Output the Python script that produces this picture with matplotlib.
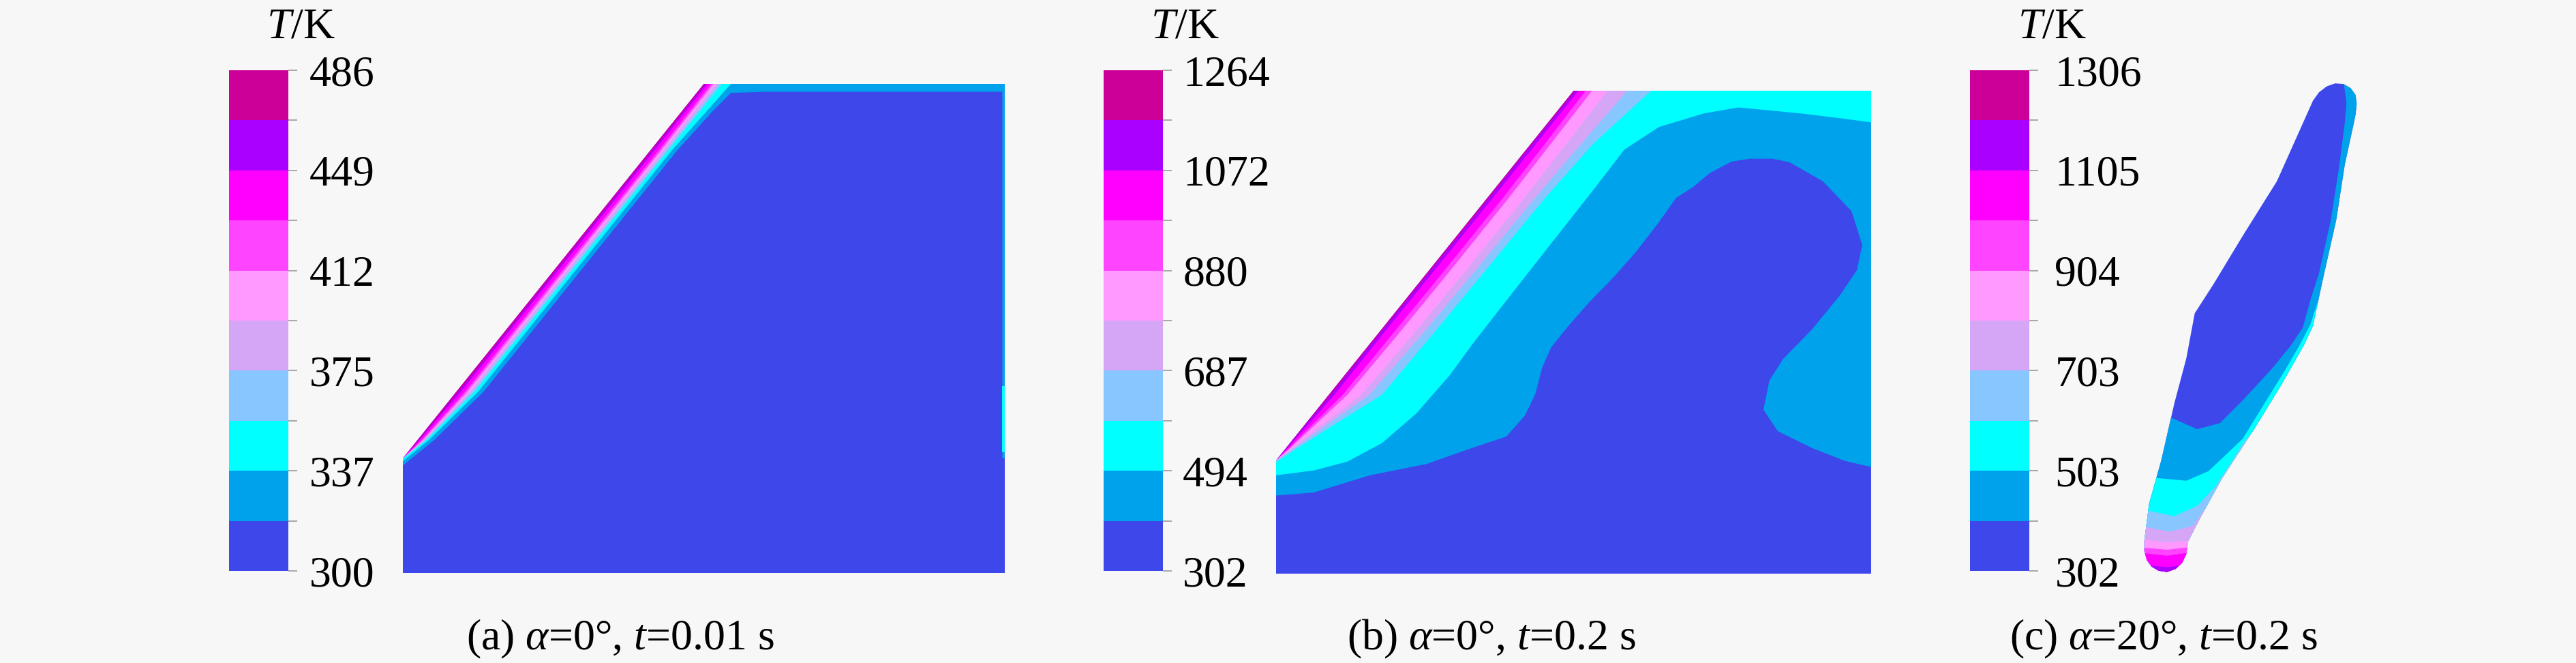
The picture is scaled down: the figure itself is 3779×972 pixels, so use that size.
import numpy as np
import matplotlib
matplotlib.use('Agg')
import matplotlib.pyplot as plt
from matplotlib.colors import ListedColormap, BoundaryNorm
from matplotlib.cm import ScalarMappable

plt.rcParams['font.family'] = ['Liberation Serif', 'DejaVu Serif']
plt.rcParams['mathtext.fontset'] = 'custom'
plt.rcParams['mathtext.rm'] = 'Liberation Serif'
plt.rcParams['mathtext.it'] = 'Liberation Serif:italic'

BG = '#f7f7f7'
FS = 46

# 10 temperature bands, coolest first
band_colors = ['#3d47ea', '#00a2ec', '#00ffff', '#88c6ff', '#d6a6f6',
               '#ff99ff', '#ff44ff', '#ff00ff', '#aa00ff', '#cc0099']

# colour bar ranges (K) and printed labels
range_a = (300, 486)
labels_a = [300, 337, 375, 412, 449, 486]
range_b = (302, 1264)
labels_b = [302, 494, 687, 880, 1072, 1264]
range_c = (302, 1306)
labels_c = [302, 503, 703, 904, 1105, 1306]

captions = [r'(a) $\alpha$=0°, $t$=0.01 s',
            r'(b) $\alpha$=0°, $t$=0.2 s',
            r'(c) $\alpha$=20°, $t$=0.2 s']

# domain of cases (a) and (b), mm-like units
domain_ab = [(0, 0), (100, 0), (100, 81), (50, 81), (0, 19)]

# isotherm lines, case (a): hot side is towards the inclined wall
a_c1 = [(0, 17.8), (5.2, 22), (13.4, 30), (29.5, 50), (45.6, 70), (51.5, 76.5),
        (54.5, 79.5), (60, 79.7), (99.6, 79.7), (99.6, 19), (100, 19)]
a_c2 = [(0, 18.5), (4.3, 22), (12.5, 30), (28.6, 50), (44.7, 70), (54.5, 81)]
a_c3 = [(0, 18.9), (3.9, 22), (11.9, 30), (28.0, 50), (44.1, 70), (53.0, 81)]
a_c4 = [(0, 19), (3.7, 22), (11.5, 30), (27.6, 50), (43.7, 70), (52.5, 81)]
a_c5 = [(0, 19), (3.5, 22), (11.1, 30), (27.2, 50), (43.3, 70), (52.0, 81)]
a_c6 = [(0, 19), (3.3, 22), (10.7, 30), (26.8, 50), (42.9, 70), (51.6, 81)]
a_c7 = [(0, 19), (3.1, 22), (10.3, 30), (26.4, 50), (42.5, 70), (51.2, 81)]
a_c8 = [(0, 19), (2.75, 22), (9.6, 30), (25.7, 50), (41.8, 70), (50.6, 81)]
a_c9 = [(0, 19), (2.6, 22), (9.25, 30), (25.35, 50), (41.45, 70), (50.3, 81)]
a_edge_spot = [(99.5, 20), (100, 20), (100, 31), (99.5, 31)]

# isotherm lines, case (b)
b_c1 = [(0, 13.1), (6.3, 13.6), (15.8, 16.5), (25.3, 18.4), (33.0, 21.1), (38.7, 23.0),
        (41.8, 26.5), (43.6, 30.2), (44.7, 34.5), (46.2, 37.9), (49.0, 41.4),
        (52.5, 45.4), (56.7, 49.7), (60.5, 54.0), (64.3, 58.9), (67.2, 63.0),
        (70.0, 64.8), (72.9, 67.2), (76.5, 69.1), (79.6, 69.6), (83.4, 69.6),
        (86.3, 69.0), (91.9, 65.8), (96.7, 60.8), (98.5, 55.1), (97.6, 50.9),
        (94.7, 46.6), (90.0, 40.9), (85.2, 36.0), (82.9, 32.4), (81.9, 27.5),
        (84.3, 23.9), (90.0, 21.1), (95.6, 18.9), (100, 17.9)]
b_c2 = [(0, 16.5), (6.3, 17.3), (12.0, 18.8), (17.8, 21.9), (23.5, 26.8), (29.2, 33.3),
        (33.0, 38.5), (37.6, 44.4), (46.0, 55.1), (53.5, 64.6), (58.5, 71.1),
        (64.3, 74.9), (71.9, 77.2), (77.7, 78.2), (88.1, 77.2), (94.7, 76.4), (100, 75.7)]
b_c3 = [(0, 18.7), (3.5, 21), (9.8, 25), (17.8, 30), (26.2, 40), (34.5, 50),
        (45.2, 63), (53.2, 72), (63, 81)]
b_c4 = [(0, 18.95), (3.0, 21), (8.6, 25), (15.7, 30), (24.4, 40), (32.8, 50),
        (43.5, 63), (51.2, 72), (59, 81)]
b_c5 = [(0, 19), (2.7, 21), (7.8, 25), (14.3, 30), (22.9, 40), (31.2, 50),
        (41.7, 63), (48.7, 72), (55.7, 81)]
b_c6 = [(0, 19), (2.3, 21), (6.6, 25), (12.0, 30), (20.4, 40), (28.6, 50),
        (39.1, 63), (46.1, 72), (53.1, 81)]
b_c7 = [(0, 19), (2.1, 21), (6.1, 25), (11.2, 30), (19.4, 40), (27.6, 50),
        (38.1, 63), (45.1, 72), (52.0, 81)]
b_c8 = [(0, 19), (1.85, 21), (5.4, 25), (9.8, 30), (17.8, 40), (25.9, 50),
        (36.4, 63), (43.6, 72), (50.8, 81)]
b_c9 = [(0, 19), (1.7, 21), (5.0, 25), (9.2, 30), (17.2, 40), (25.3, 50),
        (35.8, 63), (43.0, 72), (50.3, 81)]

# case (c): tilted residue outline
outline_c = [(37.0, 82.7), (38.4, 82.6), (39.6, 81.9), (40.4, 80.8), (40.6, 79.3),
             (40.4, 77.5), (40.1, 76.0), (38.6, 69.1),
             (37.2, 60.0), (34.9, 49.8), (33.3, 42.3), (31.8, 39.1), (28.1, 32.6),
             (23.5, 25.1), (18.2, 17.0), (14.4, 10.1), (12.5, 6.4), (12.2, 4.3),
             (11.5, 2.8), (10.4, 1.8), (9.0, 1.3), (7.6, 1.5), (6.4, 2.2), (5.6, 3.3),
             (5.2, 4.8), (5.2, 6.5),
             (6.0, 12.7), (8.0, 19.8), (10.2, 29.4), (12.2, 36.9), (13.6, 44.4),
             (16.7, 49.2), (21.6, 57.3), (27.3, 66.4), (33.3, 79.8), (34.3, 81.2),
             (35.6, 82.2)]
# hot side is below / right of each line
c_c1 = [(9.0, 27.3), (14.0, 25.1), (17.8, 26.1), (21.6, 29.9), (26.5, 35.2), (29.6, 39.0),
        (31.6, 42.0), (33.0, 47.0), (34.3, 51.0), (36.3, 60), (37.7, 69), (38.6, 76),
        (38.9, 79.6), (38.6, 81.6), (38.3, 84)]
c_c2 = [(6.8, 17.0), (12.2, 16.5), (15.9, 18.1), (21.6, 23.5), (25.3, 29.5), (27.6, 33.2),
        (29.0, 35.5), (31.2, 39.3), (32.9, 42.6), (34.0, 46), (36, 46)]
c_c3 = [(5.0, 11.7), (10.2, 10.6), (14.0, 12.3), (17.0, 15.5), (19.3, 19.0),
        (21.8, 23.0), (24, 25.5), (26, 25.5)]
c_c4 = [(4.5, 9.0), (9.4, 8.0), (13.3, 9.0), (15.6, 12.3), (17.5, 14.5), (19, 14.5)]
c_c5 = [(4.5, 6.8), (8.5, 6.25), (12.2, 6.4), (13.5, 7.5), (15, 7.5)]
c_c6 = [(4.5, 5.4), (9.0, 5.0), (12.4, 5.4), (14, 5.4)]
c_c7 = [(4.5, 4.5), (9.0, 4.0), (12.4, 4.5), (14, 4.5)]
c_c8 = [(4.5, 2.5), (9.0, 2.1), (12.4, 2.5), (14, 2.5)]
c_c9 = [(4.5, 1.5), (9.0, 1.3), (12.4, 1.5), (14, 1.5)]


def close_ab(pts):
    u = [p[0] for p in pts]
    v = [p[1] for p in pts]
    if u[-1] >= 99.9:
        u += [100, 50, 0]
        v += [81, 81, 19]
    else:
        u += [50, 0]
        v += [81, 19]
    return u, v


def close_c(pts):
    u = [p[0] for p in pts] + [45, 45, 0, 0]
    v = [p[1] for p in pts] + [pts[-1][1], -1, -1, pts[0][1]]
    return u, v


def draw_field(ax, outline, lines, close, extra=()):
    ou = [p[0] for p in outline]
    ov = [p[1] for p in outline]
    dom = ax.fill(ou, ov, color=band_colors[0], lw=0)[0]
    for k, pts in enumerate(lines, start=1):
        u, v = close(pts)
        poly = ax.fill(u, v, color=band_colors[k], lw=0)[0]
        poly.set_clip_path(dom)
    for k, pts in extra:
        poly = ax.fill([p[0] for p in pts], [p[1] for p in pts], color=band_colors[k], lw=0)[0]
        poly.set_clip_path(dom)


def add_colorbar(fig, rect, t_range, labels, title_x, pad):
    cax = fig.add_axes(rect)
    levels = np.linspace(t_range[0], t_range[1], 11)
    sm = ScalarMappable(norm=BoundaryNorm(levels, 10), cmap=ListedColormap(band_colors))
    cb = fig.colorbar(sm, cax=cax, ticks=levels[::2])
    cb.set_ticks(levels[1::2], minor=True)
    cb.set_ticklabels([str(t) for t in labels])
    cb.outline.set_visible(False)
    cax.tick_params(which='both', direction='out', length=9, width=1.2,
                    color='#9a9a9a', pad=pad, labelsize=FS)
    fig.text(title_x / 3780, (972 - 56) / 972, r'$T$/K', ha='center', va='baseline', fontsize=FS)


fig = plt.figure(figsize=(37.8, 9.72), dpi=100, facecolor=BG)

# panel (a)
ax_a = fig.add_axes([591 / 3780, 132 / 972, 883 / 3780, 717 / 972])
draw_field(ax_a, domain_ab, [a_c1, a_c2, a_c3, a_c4, a_c5, a_c6, a_c7, a_c8, a_c9],
           close_ab, extra=[(2, a_edge_spot)])
ax_a.set_xlim(0, 100)
ax_a.set_ylim(0, 81)

# panel (b)
ax_b = fig.add_axes([1872 / 3780, 131 / 972, 873 / 3780, 708 / 972])
draw_field(ax_b, domain_ab, [b_c1, b_c2, b_c3, b_c4, b_c5, b_c6, b_c7, b_c8, b_c9], close_ab)
ax_b.set_xlim(0, 100)
ax_b.set_ylim(0, 81)

# panel (c)
ax_c = fig.add_axes([3100 / 3780, 122 / 972, 400 / 3780, 750 / 972])
draw_field(ax_c, outline_c, [c_c1, c_c2, c_c3, c_c4, c_c5, c_c6, c_c7, c_c8, c_c9], close_c)
ax_c.set_xlim(0, 400 / 8.8)
ax_c.set_ylim(0, 750 / 8.8)

for ax in (ax_a, ax_b, ax_c):
    ax.set_facecolor('none')
    ax.axis('off')

add_colorbar(fig, [336 / 3780, 135 / 972, 87 / 3780, 734 / 972], range_a, labels_a, 441, 13)
add_colorbar(fig, [1619 / 3780, 135 / 972, 87 / 3780, 734 / 972], range_b, labels_b, 1738, 12)
add_colorbar(fig, [2890 / 3780, 135 / 972, 87 / 3780, 734 / 972], range_c, labels_c, 3010, 18)

for x, text in zip([910, 2188, 3174], captions):
    fig.text(x / 3780, 20 / 972, text, ha='center', va='baseline', fontsize=FS)

fig.savefig('out.png', dpi=100, facecolor=BG)
